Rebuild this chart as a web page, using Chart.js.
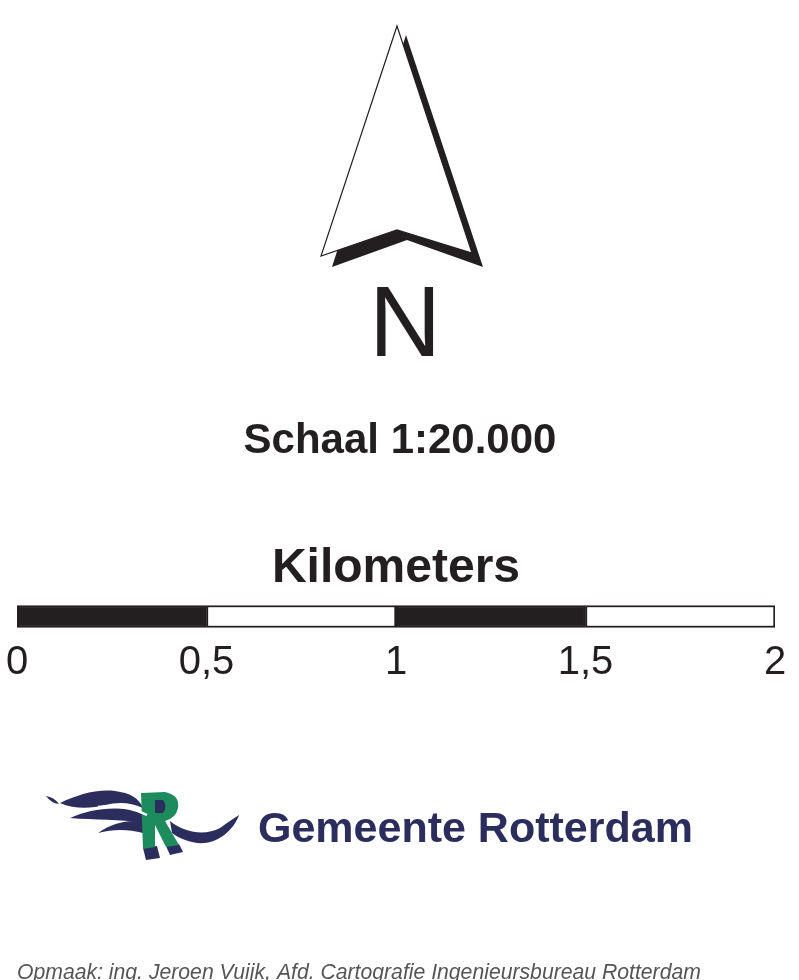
<!DOCTYPE html>
<html>
<head>
<meta charset="utf-8">
<script src="https://cdn.jsdelivr.net/npm/chart.js@4"></script>
<style>
    html, body { margin: 0; padding: 0; background: #fff; }
    #wrap { width: 799px; height: 980px; }
</style>
</head>
<body>
<div id="wrap"><canvas id="legendChart"></canvas></div>
<script>
// Schaalbalk: vier vakken van 0,5 km
var segmentNames = ['0 - 0,5', '0,5 - 1', '1 - 1,5', '1,5 - 2'];
var segmentLengths = [0.5, 0.5, 0.5, 0.5];
var tickValues = [0, 0.5, 1, 1.5, 2];
var tickLabels = ['0', '0,5', '1', '1,5', '2'];

// Teksten van de legenda
var northText = 'N';
var scaleText = 'Schaal 1:20.000';
var unitText = 'Kilometers';
var orgText = 'Gemeente Rotterdam';
var creditText = 'Opmaak: ing. Jeroen Vuijk, Afd. Cartografie Ingenieursbureau Rotterdam';

var ink = '#231f20';
var navy = '#2b2e5c';
var green = '#1d8c5c';
var fontName = '"Liberation Sans", Arial, Helvetica, sans-serif';

// Noordpijl, teksten en logo rond de schaalbalk
var legendDecor = {
    id: 'legendDecor',
    afterDraw: function (chart) {
        var ctx = chart.ctx;
        ctx.save();

        // schaduw van de pijl
        ctx.fillStyle = ink;
        ctx.beginPath();
        ctx.moveTo(406, 35);
        ctx.lineTo(483, 267);
        ctx.lineTo(407, 240);
        ctx.lineTo(332, 267);
        ctx.closePath();
        ctx.fill();

        // witte pijl
        ctx.fillStyle = '#fff';
        ctx.strokeStyle = ink;
        ctx.lineWidth = 1.2;
        ctx.beginPath();
        ctx.moveTo(397, 26);
        ctx.lineTo(472, 253);
        ctx.lineTo(397, 230);
        ctx.lineTo(321, 256);
        ctx.closePath();
        ctx.fill();
        ctx.stroke();

        ctx.fillStyle = ink;
        ctx.textAlign = 'center';
        ctx.textBaseline = 'alphabetic';
        ctx.font = '100px ' + fontName;
        ctx.fillText(northText, 405, 356);

        ctx.font = 'bold 42px ' + fontName;
        ctx.fillText(scaleText, 400, 453);

        ctx.font = 'bold 48px ' + fontName;
        ctx.fillText(unitText, 396, 582);

        // logo Gemeente Rotterdam
        ctx.fillStyle = navy;
        ctx.beginPath();
        ctx.moveTo(46, 796);
        ctx.quadraticCurveTo(54, 797, 59, 804);
        ctx.quadraticCurveTo(51, 803, 46, 796);
        ctx.fill();

        ctx.beginPath();
        ctx.moveTo(60, 803);
        ctx.bezierCurveTo(78, 795, 95, 789, 115, 791);
        ctx.bezierCurveTo(130, 793, 139, 798, 143, 808);
        ctx.bezierCurveTo(130, 802, 118, 802, 105, 805);
        ctx.bezierCurveTo(90, 809, 74, 809, 60, 803);
        ctx.fill();

        ctx.beginPath();
        ctx.moveTo(70, 818);
        ctx.bezierCurveTo(90, 809, 115, 805, 143, 812);
        ctx.lineTo(143, 823);
        ctx.bezierCurveTo(120, 819, 95, 820, 70, 818);
        ctx.fill();

        ctx.beginPath();
        ctx.moveTo(98, 833);
        ctx.bezierCurveTo(112, 823, 130, 819, 143, 822);
        ctx.lineTo(143, 833);
        ctx.bezierCurveTo(128, 829, 113, 829, 98, 833);
        ctx.fill();

        ctx.beginPath();
        ctx.moveTo(170, 821);
        ctx.bezierCurveTo(185, 833, 205, 836, 220, 828);
        ctx.quadraticCurveTo(228, 822, 239, 815);
        ctx.bezierCurveTo(235, 827, 222, 841, 205, 843);
        ctx.bezierCurveTo(192, 844, 180, 839, 172, 833);
        ctx.closePath();
        ctx.fill();

        // schaduw onder de R
        ctx.beginPath();
        ctx.moveTo(143, 848);
        ctx.lineTo(157, 846);
        ctx.lineTo(160, 858);
        ctx.lineTo(146, 860);
        ctx.closePath();
        ctx.fill();
        ctx.beginPath();
        ctx.moveTo(166, 846);
        ctx.lineTo(179, 844);
        ctx.lineTo(183, 852);
        ctx.lineTo(170, 855);
        ctx.closePath();
        ctx.fill();

        ctx.fillStyle = green;
        ctx.beginPath();
        ctx.moveTo(141, 793);
        ctx.lineTo(165, 792);
        ctx.quadraticCurveTo(180, 795, 178, 808);
        ctx.quadraticCurveTo(176, 818, 165, 821);
        ctx.lineTo(179, 845);
        ctx.lineTo(166, 847);
        ctx.lineTo(155, 825);
        ctx.lineTo(155, 847);
        ctx.lineTo(143, 849);
        ctx.closePath();
        ctx.fill();

        ctx.fillStyle = navy;
        ctx.beginPath();
        ctx.moveTo(155, 800);
        ctx.lineTo(163, 800);
        ctx.quadraticCurveTo(168, 806, 163, 813);
        ctx.lineTo(155, 813);
        ctx.closePath();
        ctx.fill();

        ctx.strokeStyle = '#fff';
        ctx.lineWidth = 2.5;
        ctx.beginPath();
        ctx.moveTo(98, 807);
        ctx.quadraticCurveTo(125, 804, 147, 815);
        ctx.stroke();

        ctx.fillStyle = navy;
        ctx.textAlign = 'left';
        ctx.font = 'bold 43px ' + fontName;
        ctx.fillText(orgText, 258, 842);

        ctx.fillStyle = '#555';
        ctx.font = 'italic 21.2px ' + fontName;
        ctx.fillText(creditText, 17, 979);

        ctx.restore();
    }
};

var segmentDatasets = segmentNames.map(function (name, i) {
    return {
        label: name,
        data: [segmentLengths[i]],
        backgroundColor: i % 2 === 0 ? ink : '#ffffff',
        borderColor: ink,
        borderWidth: 2,
        borderSkipped: false,
        barThickness: 22
    };
});

document.addEventListener('DOMContentLoaded', function () {
    var ctx = document.getElementById('legendChart').getContext('2d');
    new Chart(ctx, {
        type: 'bar',
        data: {
            labels: [unitText],
            datasets: segmentDatasets
        },
        options: {
            indexAxis: 'y',
            responsive: true,
            maintainAspectRatio: false,
            animation: false,
            layout: {
                padding: { left: 17, right: 24, top: 593, bottom: 294 }
            },
            plugins: {
                legend: { display: false },
                title: { display: false },
                tooltip: { enabled: false }
            },
            scales: {
                x: {
                    type: 'linear',
                    stacked: true,
                    min: 0,
                    max: 2,
                    afterBuildTicks: function (scale) {
                        scale.ticks = tickValues.map(function (v) { return { value: v }; });
                    },
                    grid: { display: false, drawTicks: false },
                    border: { display: false },
                    ticks: {
                        autoSkip: false,
                        maxRotation: 0,
                        padding: 3,
                        color: ink,
                        font: { family: fontName, size: 40, lineHeight: 1 },
                        callback: function (value, index) {
                            return tickLabels[index];
                        }
                    }
                },
                y: {
                    stacked: true,
                    display: false
                }
            }
        },
        plugins: [legendDecor]
    });
});
</script>
</body>
</html>
